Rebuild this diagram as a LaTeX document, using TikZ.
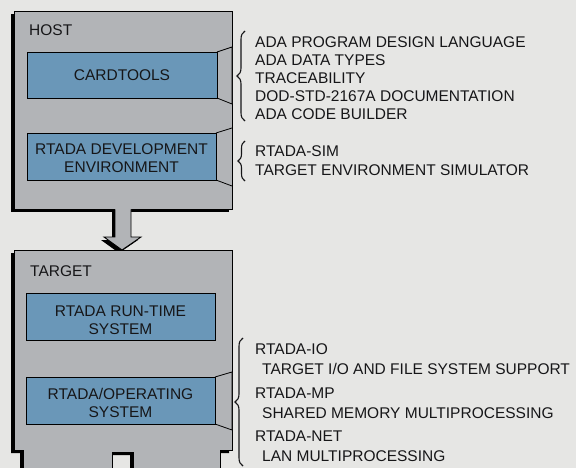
\documentclass[tikz,border=0pt]{standalone}
\usepackage{fontspec}
\setmainfont{Liberation Sans}
\usetikzlibrary{decorations.pathreplacing}
\definecolor{bg}{RGB}{230,230,228}
\definecolor{boardgray}{RGB}{178,180,183}
\definecolor{cardblue}{RGB}{106,151,184}
\definecolor{ink}{RGB}{22,22,24}
\begin{document}
\begin{tikzpicture}[x=1pt,y=-1pt,
  lbl/.style={font=\fontsize{15.5}{18}\selectfont, text=ink, inner sep=0pt, anchor=base west},
  boxlbl/.style={font=\fontsize{15.5}{18.5}\selectfont, text=ink, inner sep=0pt, anchor=base, align=center},
  board/.style={fill=boardgray, draw=black, line width=0.9pt},
  card/.style={fill=cardblue, draw=black, line width=1pt},
  bevel/.style={draw=black, line width=0.8pt},
  curly/.style={draw=ink, line width=1.1pt, decorate, decoration={brace, amplitude=8pt}}]
\useasboundingbox (0,0) rectangle (576,468);
\clip (0,0) rectangle (576,468);
\fill[bg] (0,0) rectangle (576,468);

% shadows
\fill[black] (11,14) rectangle (229,212);
\fill[black] (112,205) -- (112,240) -- (101,240) -- (119,253) -- (138,240) -- (128,240) -- (128,205) -- cycle;
\fill[black] (11,253) -- (229,253) -- (229,453) -- (217,453) -- (217,472) -- (130,472) -- (130,455) -- (109,455) -- (109,472) -- (20,472) -- (20,453) -- (11,453) -- cycle;

% host board
\draw[board] (14,11) rectangle (232,209);
\node[lbl] (host) at (29,36) {HOST};
\draw[bevel, fill=boardgray] (217,52) -- (232,47) -- (232,104) -- (217,98);
\node[card, minimum width=190pt, minimum height=46pt, inner sep=0pt, anchor=north west] (cardtools) at (27,52) {};
\node[boxlbl] (cardtoolsl) at (122,81) {CARDTOOLS};
\draw[bevel] (216,133) -- (232,128);
\draw[bevel] (216,180) -- (232,186);
\node[card, minimum width=189pt, minimum height=47pt, inner sep=0pt, anchor=north west] (rtdev) at (27,133) {};
\node[boxlbl] (rtdevl) at (121.5,173) {RTADA DEVELOPMENT\\ENVIRONMENT};

% arrow
\fill[boardgray] (115,205) -- (115,237) -- (104,237) -- (122,250) -- (141,237) -- (131,237) -- (131,205) -- cycle;
\draw[black, line width=0.9pt, line join=miter] (115,209.5) -- (115,237) -- (104,237) -- (122,250) -- (141,237) -- (131,237) -- (131,209.5);

% target board
\draw[board] (14,250) -- (232,250) -- (232,450) -- (220,450) -- (220,472) -- (133,472) -- (133,452) -- (112,452) -- (112,472) -- (23,472) -- (23,450) -- (14,450) -- cycle;
\node[lbl] (target) at (30,276) {TARGET};
\node[card, minimum width=189pt, minimum height=47pt, inner sep=0pt, anchor=north west] (rts) at (26,293) {};
\node[boxlbl] (rtsl) at (120.5,334.5) {RTADA RUN-TIME\\SYSTEM};
\draw[bevel, fill=boardgray] (215,377) -- (232,372) -- (232,430) -- (215,424);
\node[card, minimum width=189pt, minimum height=47pt, inner sep=0pt, anchor=north west] (os) at (26,377) {};
\node[boxlbl] (osl) at (120.5,417.5) {RTADA/OPERATING\\SYSTEM};

% braces
\coordinate (b1t) at (245,31);
\coordinate (b1b) at (245,121);
\draw[curly] (b1b) -- (b1t);
\coordinate (b2t) at (245,141);
\coordinate (b2b) at (245,181);
\draw[curly, decoration={brace, amplitude=7pt}] (b2b) -- (b2t);
\coordinate (b3t) at (243,338);
\coordinate (b3b) at (243,466);
\draw[curly] (b3b) -- (b3t);

% right-hand texts
\node[lbl] (t1) at (255,48) {ADA PROGRAM DESIGN LANGUAGE};
\node[lbl] (t2) at (255,66) {ADA DATA TYPES};
\node[lbl] (t3) at (255,84) {TRACEABILITY};
\node[lbl] (t4) at (255,102) {DOD-STD-2167A DOCUMENTATION};
\node[lbl] (t5) at (255,120) {ADA CODE BUILDER};
\node[lbl] (t6) at (255,157) {RTADA-SIM};
\node[lbl] (t7) at (255,175.5) {TARGET ENVIRONMENT SIMULATOR};
\node[lbl] (t8) at (255,354.5) {RTADA-IO};
\node[lbl] (t9) at (262,374.5) {TARGET I/O AND FILE SYSTEM SUPPORT};
\node[lbl] (t10) at (255,398) {RTADA-MP};
\node[lbl] (t11) at (262,418) {SHARED MEMORY MULTIPROCESSING};
\node[lbl] (t12) at (255,441.5) {RTADA-NET};
\node[lbl] (t13) at (262,461.5) {LAN MULTIPROCESSING};
\end{tikzpicture}
\end{document}
